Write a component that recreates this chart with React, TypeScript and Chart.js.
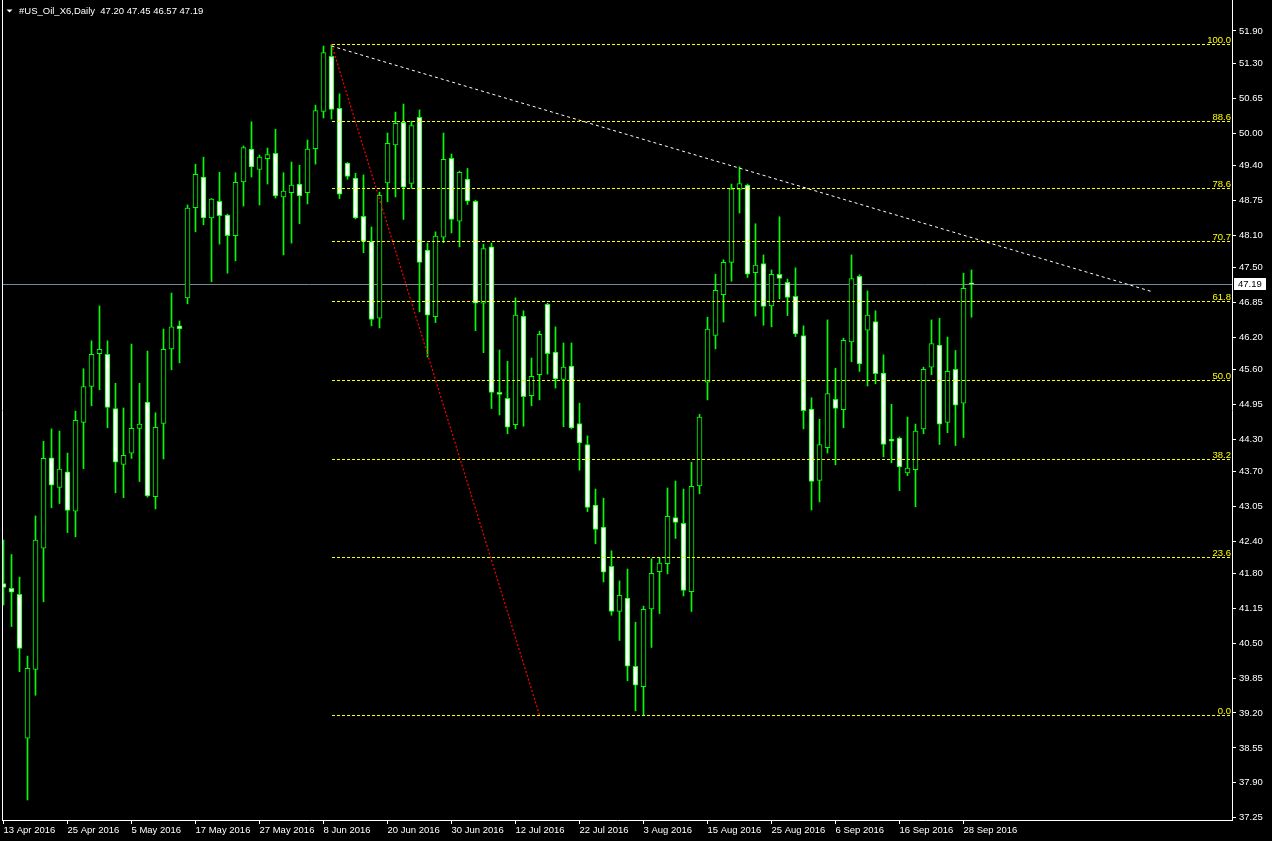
import React, { useEffect, useRef } from "react";
import { Chart, registerables } from "chart.js";

Chart.register(...registerables);

// ---- data (daily OHLC, one bar per trading day from 13 Apr 2016) ----
const chartTitle = "#US_Oil_X6,Daily  47.20 47.45 46.57 47.19";

const opens = [
  41.61, 41.52, 41.41, 38.73, 40.01, 42.27, 43.95, 43.40, 43.69, 42.96,
  44.61, 45.28, 45.89, 45.88, 44.87, 43.83, 44.04, 44.50, 44.99, 43.23,
  44.59, 45.98, 46.41, 46.93, 48.61, 49.18, 48.42, 48.73, 48.47, 48.09,
  49.09, 49.70, 49.32, 49.52, 49.62, 48.81, 48.89, 49.05, 48.89, 49.71,
  50.40, 51.43, 50.46, 49.44, 49.16, 48.45, 47.98, 46.55, 49.07, 49.78,
  50.20, 49.06, 50.29, 47.82, 46.58, 48.06, 49.53, 48.36, 49.14, 48.73,
  46.83, 47.88, 45.17, 45.06, 44.57, 46.59, 45.11, 45.50, 46.81, 45.92,
  45.41, 45.66, 44.59, 44.20, 43.07, 42.66, 41.93, 41.09, 41.34, 40.07,
  39.69, 41.14, 41.83, 41.98, 42.84, 42.73, 41.46, 43.43, 45.36, 46.23,
  46.99, 47.59, 48.95, 49.03, 47.40, 47.57, 46.78, 47.37, 47.22, 46.96,
  46.23, 44.86, 43.53, 44.14, 45.04, 44.85, 46.11, 47.33, 46.33, 46.49,
  45.53, 44.30, 44.32, 43.67, 43.73, 44.49, 45.64, 46.05, 44.61, 45.60,
  44.97, 47.20,
];
const highs = [
  42.42, 42.15, 41.73, 40.26, 42.87, 44.26, 44.49, 44.45, 44.04, 44.82,
  45.61, 46.13, 46.78, 46.13, 45.34, 44.88, 46.07, 45.34, 45.94, 44.79,
  46.35, 47.02, 46.50, 48.66, 49.42, 49.55, 48.78, 49.27, 48.49, 49.26,
  49.76, 50.21, 49.59, 49.72, 50.07, 49.26, 49.46, 49.40, 49.87, 50.52,
  51.62, 51.65, 50.73, 49.45, 49.25, 49.22, 48.25, 48.90, 50.00, 50.39,
  50.54, 50.22, 50.43, 47.95, 48.16, 50.00, 49.61, 49.29, 49.34, 48.75,
  47.93, 47.95, 45.96, 45.75, 46.93, 46.69, 45.81, 46.31, 46.83, 46.39,
  46.09, 46.09, 44.97, 44.36, 43.37, 43.20, 42.22, 41.66, 41.88, 40.89,
  41.19, 42.07, 42.09, 43.39, 43.52, 43.37, 43.87, 44.76, 46.57, 47.37,
  47.64, 49.05, 49.37, 49.05, 48.31, 47.73, 47.45, 48.44, 47.28, 47.49,
  46.41, 45.07, 44.67, 46.52, 45.62, 46.18, 47.73, 47.36, 47.06, 46.69,
  45.87, 44.95, 44.34, 44.71, 44.58, 45.64, 46.52, 46.55, 46.20, 45.95,
  47.39, 47.45,
];
const lows = [
  41.21, 40.81, 39.97, 37.58, 39.53, 41.27, 43.02, 43.10, 42.56, 42.48,
  43.75, 44.92, 45.22, 44.51, 43.30, 43.21, 43.94, 43.51, 43.22, 43.00,
  43.93, 45.59, 45.72, 46.82, 48.16, 48.29, 47.23, 47.93, 47.39, 47.62,
  48.64, 49.18, 48.66, 49.05, 48.79, 47.73, 47.95, 48.31, 48.68, 49.42,
  50.28, 50.26, 48.78, 49.14, 48.40, 47.77, 46.41, 46.37, 48.72, 48.81,
  48.39, 48.97, 46.67, 45.83, 46.47, 47.96, 48.14, 47.88, 48.67, 46.32,
  45.91, 44.87, 44.75, 44.40, 44.49, 44.54, 44.92, 45.03, 45.51, 45.25,
  44.53, 44.49, 43.72, 42.95, 42.35, 41.64, 41.02, 40.55, 39.80, 39.24,
  39.16, 40.42, 41.05, 41.79, 42.45, 41.38, 41.09, 43.28, 45.03, 45.98,
  46.48, 47.24, 48.51, 47.31, 46.59, 46.42, 46.39, 46.91, 46.60, 46.21,
  44.49, 42.98, 43.13, 44.04, 43.82, 44.51, 45.74, 45.56, 45.29, 45.33,
  43.97, 43.86, 43.34, 43.62, 43.04, 44.40, 45.50, 44.20, 44.42, 44.18,
  44.33, 46.57,
];
const closes = [
  41.54, 41.45, 40.40, 40.03, 42.42, 43.94, 43.44, 43.74, 42.97, 44.65,
  45.28, 45.88, 45.97, 44.89, 43.87, 44.00, 44.50, 44.58, 43.24, 44.52,
  45.97, 46.39, 46.35, 48.60, 49.23, 48.42, 48.77, 48.46, 48.09, 49.08,
  49.73, 49.37, 49.55, 49.60, 48.83, 48.92, 49.03, 48.83, 49.70, 50.42,
  51.50, 50.44, 48.86, 49.19, 48.42, 47.98, 46.53, 48.84, 49.81, 50.18,
  48.99, 50.14, 47.59, 46.61, 48.08, 49.51, 48.39, 49.27, 48.73, 46.83,
  47.85, 45.17, 45.13, 44.52, 46.61, 45.09, 45.47, 46.25, 45.89, 45.42,
  45.64, 44.51, 44.23, 43.03, 42.62, 41.82, 41.09, 41.39, 40.07, 39.72,
  41.13, 41.80, 41.99, 42.86, 42.75, 41.48, 43.42, 44.71, 46.35, 47.07,
  47.59, 48.96, 49.06, 47.37, 47.54, 46.77, 47.37, 47.29, 46.94, 46.26,
  44.83, 43.51, 44.20, 45.15, 44.87, 46.14, 47.29, 45.70, 46.61, 45.52,
  44.20, 44.26, 43.78, 43.76, 44.45, 45.60, 46.08, 44.58, 45.56, 44.93,
  47.11, 47.19,
];

const dateTickLabels = [
  "13 Apr 2016", "25 Apr 2016", "5 May 2016", "17 May 2016", "27 May 2016",
  "8 Jun 2016", "20 Jun 2016", "30 Jun 2016", "12 Jul 2016", "22 Jul 2016",
  "3 Aug 2016", "15 Aug 2016", "25 Aug 2016", "6 Sep 2016", "16 Sep 2016",
  "28 Sep 2016",
];
const barsPerDateTick = 8;

const priceTickLabels = [
  "51.90", "51.30", "50.65", "50.00", "49.40", "48.75", "48.10", "47.50",
  "46.85", "46.20", "45.60", "44.95", "44.30", "43.70", "43.05", "42.40",
  "41.80", "41.15", "40.50", "39.85", "39.20", "38.55", "37.90", "37.25",
];

// Fibonacci retracement object
const fibLevels = [100, 88.6, 78.6, 70.7, 61.8, 50, 38.2, 23.6, 0];
const fibHigh = 51.65;
const fibLow = 39.16;
const fibAnchorBars = [41, 67];

// white trend line (bar index, price)
const trendLineBars = [41, 143.7];
const trendLinePrices = [51.62, 47.04];

const lastPrice = 47.19;

// visible ranges
const xRange = [-0.1875, 153.5625];
const yRange = [37.207, 52.477];

const FONT = "Liberation Sans";
const LIME = "#00ff00";

export default function App() {
  const canvasRef = useRef<HTMLCanvasElement | null>(null);

  useEffect(() => {
    const canvas = canvasRef.current;
    if (!canvas) return;

    const idx = opens.map((_, i) => i);
    const wickData = idx.map((i) => ({ x: i, y: [lows[i], highs[i]] }));
    const bodyData = idx.map((i) => ({ x: i, y: [opens[i], closes[i]] }));
    const bodyFill = idx.map((i) => (closes[i] < opens[i] ? "#ffffff" : "#000000"));

    const overlay = {
      id: "mtOverlay",
      beforeDraw(chart: any) {
        const { ctx, width, height } = chart;
        ctx.save();
        ctx.fillStyle = "#000000";
        ctx.fillRect(0, 0, width, height);
        ctx.restore();
      },
      beforeDatasetsDraw(chart: any) {
        const { ctx, chartArea: a } = chart;
        const y = chart.scales.y;
        const py = Math.round(y.getPixelForValue(lastPrice)) + 0.5;
        ctx.save();
        ctx.strokeStyle = "#778899";
        ctx.lineWidth = 1;
        ctx.beginPath();
        ctx.moveTo(a.left, py);
        ctx.lineTo(a.right, py);
        ctx.stroke();
        ctx.restore();
      },
      afterDatasetsDraw(chart: any) {
        const { ctx, chartArea: a } = chart;
        const x = chart.scales.x;
        const y = chart.scales.y;
        ctx.save();
        ctx.beginPath();
        ctx.rect(a.left, a.top, a.right - a.left, a.bottom - a.top);
        ctx.clip();

        // fib levels
        const fx0 = Math.round(x.getPixelForValue(fibAnchorBars[0]));
        ctx.lineWidth = 1;
        ctx.font = `9.5px "${FONT}"`;
        ctx.textAlign = "right";
        ctx.textBaseline = "alphabetic";
        fibLevels.forEach((lvl) => {
          const price = fibLow + ((fibHigh - fibLow) * lvl) / 100;
          const py = Math.round(y.getPixelForValue(price)) + 0.5;
          ctx.strokeStyle = "#ffff00";
          ctx.setLineDash([3, 2]);
          ctx.beginPath();
          ctx.moveTo(fx0, py);
          ctx.lineTo(a.right, py);
          ctx.stroke();
          ctx.setLineDash([]);
          ctx.fillStyle = "#ffff00";
          ctx.fillText(lvl.toFixed(1), a.right - 1, py - 2);
        });

        // red fib connector
        ctx.strokeStyle = "#ff0000";
        ctx.lineWidth = 1.2;
        ctx.setLineDash([2, 2]);
        ctx.beginPath();
        ctx.moveTo(x.getPixelForValue(fibAnchorBars[0]), y.getPixelForValue(fibHigh));
        ctx.lineTo(x.getPixelForValue(fibAnchorBars[1]), y.getPixelForValue(fibLow));
        ctx.stroke();

        // white trend line
        ctx.strokeStyle = "#ffffff";
        ctx.lineWidth = 1;
        ctx.setLineDash([3, 3]);
        ctx.beginPath();
        ctx.moveTo(x.getPixelForValue(trendLineBars[0]), y.getPixelForValue(trendLinePrices[0]));
        ctx.lineTo(x.getPixelForValue(trendLineBars[1]), y.getPixelForValue(trendLinePrices[1]));
        ctx.stroke();
        ctx.setLineDash([]);
        ctx.restore();
      },
      afterDraw(chart: any) {
        const { ctx, chartArea: a } = chart;
        const y = chart.scales.y;
        ctx.save();
        // left frame line
        ctx.strokeStyle = "#ffffff";
        ctx.lineWidth = 1;
        ctx.beginPath();
        ctx.moveTo(a.left + 0.5, 0);
        ctx.lineTo(a.left + 0.5, a.bottom + 1);
        ctx.stroke();

        // title
        ctx.fillStyle = "#ffffff";
        ctx.beginPath();
        ctx.moveTo(6.5, 9.5);
        ctx.lineTo(12.5, 9.5);
        ctx.lineTo(9.5, 12.5);
        ctx.closePath();
        ctx.fill();
        ctx.font = `9.5px "${FONT}"`;
        ctx.textAlign = "left";
        ctx.textBaseline = "middle";
        ctx.fillText(chartTitle, 19, 11);

        // last price box on axis
        const py = Math.round(y.getPixelForValue(lastPrice));
        ctx.fillStyle = "#ffffff";
        ctx.fillRect(a.right + 2, py - 6, 32, 12);
        ctx.fillStyle = "#000000";
        ctx.fillText(lastPrice.toFixed(2), a.right + 6, py + 0.5);
        ctx.restore();
      },
    };

    const tickFont = { family: FONT, size: 9.5, lineHeight: 1 };

    const chart = new Chart(canvas, {
      type: "bar",
      data: {
        datasets: [
          {
            label: "body",
            data: bodyData as any,
            backgroundColor: bodyFill,
            borderColor: LIME,
            borderWidth: 1,
            borderSkipped: false,
            barThickness: 5,
            minBarLength: 1,
            grouped: false,
            order: 0,
          } as any,
          {
            label: "wick",
            data: wickData as any,
            backgroundColor: LIME,
            borderWidth: 0,
            barThickness: 1,
            grouped: false,
            order: 1,
          } as any,
        ],
      },
      options: {
        responsive: false,
        animation: false,
        devicePixelRatio: 1,
        events: [],
        layout: { padding: { left: 2, top: 0, right: 0, bottom: 0 } },
        plugins: {
          legend: { display: false },
          tooltip: { enabled: false },
          title: { display: false },
        },
        scales: {
          x: {
            type: "linear",
            min: xRange[0],
            max: xRange[1],
            offset: false,
            bounds: "data",
            grid: {
              display: true,
              drawOnChartArea: false,
              drawTicks: true,
              tickLength: 4,
              color: "#ffffff",
              offset: false,
            },
            border: { display: true, color: "#ffffff", width: 1 },
            ticks: {
              color: "#ffffff",
              font: tickFont,
              padding: 2,
              maxRotation: 0,
              minRotation: 0,
              autoSkip: false,
              align: "start",
              callback: (_v: any, i: number) => dateTickLabels[i] ?? "",
            },
            afterBuildTicks: (s: any) => {
              s.ticks = dateTickLabels.map((_, i) => ({ value: i * barsPerDateTick }));
            },
            afterFit: (s: any) => {
              s.height = 21;
              s.paddingLeft = 0;
              s.paddingRight = 0;
            },
          } as any,
          y: {
            type: "linear",
            position: "right",
            min: yRange[0],
            max: yRange[1],
            bounds: "data",
            beginAtZero: false,
            grid: {
              display: true,
              drawOnChartArea: false,
              drawTicks: true,
              tickLength: 4,
              color: "#ffffff",
            },
            border: { display: true, color: "#ffffff", width: 1 },
            ticks: {
              color: "#ffffff",
              font: tickFont,
              padding: 3,
              autoSkip: false,
              callback: (_v: any, i: number) => priceTickLabels[i] ?? "",
            },
            afterBuildTicks: (s: any) => {
              s.ticks = priceTickLabels.map((l) => ({ value: parseFloat(l) }));
            },
            afterFit: (s: any) => {
              s.width = 40;
              s.paddingTop = 0;
              s.paddingBottom = 0;
            },
          } as any,
        },
      },
      plugins: [overlay],
    });

    return () => {
      chart.destroy();
    };
  }, []);

  return (
    <div
      style={{
        position: "absolute",
        left: 0,
        top: 0,
        width: 1272,
        height: 841,
        background: "#000000",
      }}
    >
      <canvas ref={canvasRef} width={1272} height={841} style={{ display: "block" }} />
    </div>
  );
}
